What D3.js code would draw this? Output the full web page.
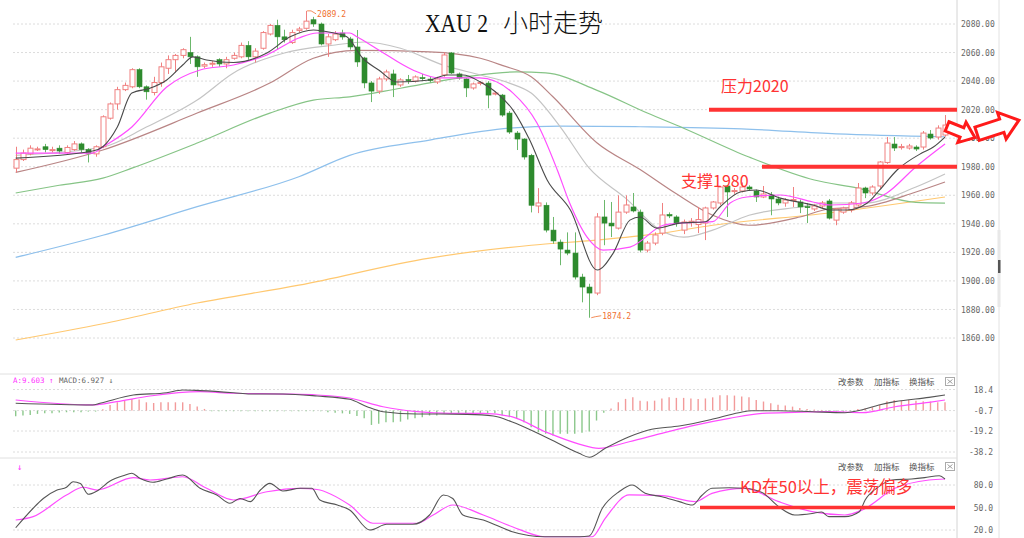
<!DOCTYPE html>
<html><head><meta charset="utf-8">
<script src="https://cdn.jsdelivr.net/npm/d3@7"></script>
<style>body{margin:0;background:#fff;}svg{display:block;}</style>
</head><body>
<svg id="c" width="1024" height="538"></svg>
<script>
// ---------- DATA ----------
const ohlc = [
[1979,1994,1976,1985],[1985,1992,1984,1989.6],[1989,1995,1988,1993],[1992,1994,1991,1992.5],[1994,1996,1990,1992],
[1991.5,1994,1990,1992],[1993,1995,1989,1991],[1990,1995,1989,1993.5],[1992,1998,1991,1996],[1996,1997,1990,1992],
[1992,1993,1983,1989.5],[1989,1995,1987,1994],[1994,2016,1993,2015],[2014,2025,2013,2024],[2024,2036,2020,2034],
[2034,2039,2033,2037],[2036,2049,2035,2048],[2048,2049,2035,2036],[2036,2037,2027,2032.5],[2032,2043,2030,2039],
[2039,2053,2036,2050],[2049,2058,2045,2055],[2055,2059,2046,2058],[2058,2063,2056,2062],[2060,2071,2052,2057],
[2057,2058,2043,2050],[2050.5,2053,2049,2051.5],[2052,2054,2050,2052.5],[2055,2056,2050,2052],[2052,2057,2049,2055],
[2056,2060,2055,2058],[2057,2067,2056,2065],[2065,2068,2055,2057],[2057,2063,2053,2061],[2063,2075,2062,2074],
[2073,2080,2072,2079],[2079,2083,2062,2071],[2071,2076,2067,2069],[2067,2076,2066,2074],[2075.5,2078,2074,2076.5],
[2077,2089.2,2076,2082],[2083,2085,2078,2080],[2080,2081,2065,2066],[2066,2073,2057,2071],[2069,2075,2068,2073],
[2073.7,2076,2069,2070.9],[2069.5,2071,2062,2063.9],[2063.9,2075.8,2050,2053.4],[2056.2,2057,2035,2038.7],[2038.7,2040,2025.3,2033],
[2033,2043,2031,2041.5],[2041.5,2048,2040,2046.4],[2045,2048,2028.8,2037.3],[2037.3,2042,2036,2040.8],[2041,2044.3,2038,2040.5],
[2040,2044,2039,2042.9],[2042.4,2045,2040,2042],[2041.4,2043,2039,2040.4],[2039.4,2043,2038,2041.5],[2044.3,2060,2043,2058.3],
[2059.7,2060.4,2045,2045.7],[2045,2046,2041,2042.2],[2041.5,2042,2028.8,2035.2],[2035.2,2039,2034,2038],[2038.5,2040,2037,2039],
[2038.6,2040,2021,2030.2],[2031.2,2033,2030,2031.6],[2030.2,2031,2015,2016.2],[2017.6,2019,2003,2004.3],[2003.6,2005,1991.7,1999.4],
[1999.4,2000,1985,1986.8],[1988,1989,1948,1953],[1952.5,1965,1947.5,1954.6],[1953,1955,1934,1935.6],[1935.6,1944.8,1926,1928],
[1927.2,1929,1911,1922.3],[1921.6,1934,1918,1919.5],[1919.5,1934,1901,1902.7],[1902.7,1905,1885,1895.7],[1895.7,1898,1874.2,1891.5],
[1891.5,1947.5,1890,1944.8],[1944.8,1956.7,1925,1940.5],[1940.5,1955.3,1930.7,1938.5],[1937,1960,1936,1948.2],[1948.2,1960,1947,1953.2],
[1951.8,1961.6,1948,1949],[1948.2,1950,1920,1921.6],[1921.6,1928,1920,1926.5],[1926.5,1934,1925,1932.2],[1933.5,1954.6,1932,1946.2],
[1946.5,1948,1944,1945.5],[1944.8,1946,1938,1940.5],[1935.6,1943,1932.8,1941.3],[1941,1944,1938,1941.8],[1939.5,1951.8,1933.5,1943],
[1940.5,1952,1928.6,1951.1],[1951.1,1956,1950,1955.3],[1954.6,1966.5,1953,1965.8],[1966.5,1967,1944.8,1962.3],[1962.8,1965,1961,1963.3],
[1963,1969,1962,1965.8],[1965.8,1967,1963,1964.4],[1963,1964,1955.3,1958.8],[1958.8,1966.5,1958,1960.9],[1960.2,1962.3,1946,1957.4],
[1957.4,1959,1953,1954.6],[1954.6,1958,1952,1956.7],[1956.5,1965.8,1951.8,1957],[1955.3,1957,1947.5,1951.8],[1952,1954.6,1940.5,1951.5],
[1950.4,1954,1949,1952.5],[1952.5,1956,1951,1954.6],[1956,1957.4,1943,1944],[1942.6,1951,1939,1950.4],[1948.2,1952,1947,1951],
[1949.7,1956,1948,1954.6],[1953.2,1968.6,1952,1965.1],[1965.1,1966,1958,1961.6],[1961.6,1967,1960,1965.8],[1966.5,1984,1965,1983.3],
[1983,2000.8,1982,1996.6],[1995.9,2000.8,1991,1993.1],[1993.6,1996,1992,1994.1],[1993.1,1996,1992,1994.5],[1993.8,1995,1991,1992.4],
[1993.8,2005,1992,2003.6],[2002.9,2005.7,1999,2000.1],[2000.8,2009,1999,2007.1],[2002.2,2016.2,2001,2009.2]
];

// moving averages as [bar index, value]
const maBlack = [[0,1986],[10.6,1991],[12,1994],[14,2007.8],[16,2031.6],[18.5,2035],[20.8,2040.8],[23,2051.3],[24.4,2057],[26.3,2054.8],[30,2053],[34.6,2059.7],[37.8,2071],[41,2075.8],[43.5,2074],[45.6,2071],[47.8,2056],[50,2047.8],[52.5,2039.4],[57,2040.8],[59.4,2044.3],[61.6,2044.3],[64,2039.4],[66.3,2031.6],[68.5,2019.7],[70.8,1998.7],[73.2,1970.7],[76.4,1949.7],[80.1,1907.6],[82.3,1919.5],[84.6,1942.6],[86,1944.8],[88.3,1937],[91.5,1940.5],[95,1941.5],[97,1951.8],[99.8,1962.3],[102,1963.7],[105.3,1958],[109.8,1953.2],[112.2,1949.7],[114.5,1949.7],[117.3,1954.6],[119,1963.7],[121.4,1977.7],[124.8,1989.6],[126.4,1993.8],[128,2000.8]];
const maMagenta = [[0,1989.6],[10.6,1989.6],[12,1993.8],[16,2007.8],[20.8,2035.8],[25.4,2047.8],[30,2051.3],[34.6,2058.3],[39,2070.2],[41.5,2073.7],[46,2073.7],[47,2071],[50,2061.8],[54.7,2047.8],[58.4,2042.2],[63.9,2042.2],[68.5,2031.6],[71.8,2010.6],[74.6,1977.7],[76.3,1954.6],[78.7,1930.7],[80.9,1921.6],[84.6,1923.7],[89.2,1939],[91.5,1940.5],[96,1941.5],[98.4,1954.6],[100.7,1958.8],[105.3,1960.2],[109.8,1955.3],[112.2,1953.2],[116.7,1954.6],[120,1961.6],[124,1980],[128,1996]];
const maGray = [[0,1988],[12,1993.8],[18,2007.8],[25,2026.7],[30,2045.7],[37,2059.7],[44,2065.3],[48,2067.4],[53,2063],[59,2051],[64,2044.3],[68,2038.6],[71,2031.6],[75,2008],[79,1979],[84,1958],[89,1935],[92,1930.7],[96,1935.6],[101,1946],[108,1951.8],[112,1954.6],[117,1954.6],[124,1965.8],[128,1974.9]];
const maBrown = [[0,1976],[12,1991.7],[25,2017.6],[35,2038.6],[41,2056],[47,2061.5],[57,2060.5],[64,2056],[67,2051],[71,2043],[74,2029],[80,1997],[86,1978],[91,1961],[96,1946],[101,1939],[108,1944.8],[112,1950.4],[117,1952],[124,1962.3],[128,1969.3]];
const maGreen = [[0,1961.6],[6,1967],[12,1972],[16,1979],[25,1996.6],[35,2017.6],[41,2026.7],[46,2029],[53,2035],[62,2043],[69,2046.4],[73,2045.7],[80,2033.7],[87,2017.6],[92,2007],[101,1986.8],[110,1970.7],[116,1965],[124,1955],[128,1954.5]];
const maBlue = [[0,1916.5],[12,1932],[25,1952],[39,1973],[46,1988],[57,1998.7],[68,2007],[75,2008.5],[86,2008],[100,2006.5],[113,2003],[128,2001]];
const maOrange = [[0,1858.6],[12,1870],[25,1884.5],[39,1897],[57,1916],[71,1925],[80,1928.6],[89,1933.5],[96,1939],[112,1947.6],[128,1958.8]];

const priceTicks = [2080,2060,2040,2020,2000,1980,1960,1940,1920,1900,1880,1860];

const macdHist = [-5.1,-4.5,-3.9,-3,-2.4,-2.4,-1.8,-1.5,-1.5,-1.5,-0.9,-0.9,1.2,5.1,7.5,9,10.6,10,7.5,6.9,7.5,7.5,7.5,7.5,6,3.6,1.5,-0.6,
-0.6,-0.6,-0.6,-0.6,-0.6,-0.6,-0.6,-0.6,-0.6,-0.6,-0.6,-0.6,-0.6,-0.6,-0.6,
-1.5,-2,-2.5,-3,-5,-7,-13,-12,-10.6,-10.6,-10,-8,-7,-6,-4.5,-4.5,-3,-2.4,-2.4,-2.4,-2.4,-2.4,-2.4,-2.4,-4.5,-6,
-7.5,-10.6,-15,-19.6,-21,-22.6,-21,-21,-21,-20,-19,-9,-2,2,7.5,10.6,12,9,8.4,9,11,12,11.5,11.5,11,10.6,11,12,14,14,13.6,12.7,12,
9.7,8.2,6.6,5.4,4.5,3.6,2.4,1.5,0.9,0.6,-0.6,-1,-1,-0.6,1.5,2,3,5,8.4,9.7,9,9.7,9,8.4,8.2,7.5,7.5];
const macdDif = [[0,5.9],[10.6,4.4],[11.6,5.9],[16.2,13.4],[20.8,15.5],[23,18],[25.4,17.4],[30,15.5],[32.3,14.3],[36.8,14.3],[41.5,12.5],[46,9.5],[48.4,2.8],[50.6,-1.7],[55.3,-3.8],[58.4,-3.8],[62.2,-4.1],[65.8,-5.6],[68.3,-10.8],[72.9,-24.4],[77.6,-39.4],[79,-43],[81.2,-34.9],[84.5,-24.4],[87.6,-17.6],[91.4,-14.7],[95.9,-8.6],[99.6,-2.6],[101.4,-0.8],[105.1,-0.8],[109.7,-1.7],[114.2,-2.6],[116.6,0],[118.9,4.4],[121.1,7.4],[125.8,11.3],[128,13.4]];
const macdDea = [[0,8.9],[10.6,4.4],[13.9,7.4],[18.5,12.5],[25.4,16.4],[30,15],[36.8,14.3],[41.5,13.4],[46,10.7],[50.6,2.8],[55.3,-1.7],[59.8,-3.2],[64.4,-3.2],[68.3,-6.2],[72.9,-19.8],[77.6,-31],[80.3,-34.9],[84.5,-28.9],[89,-21.3],[93.6,-13.8],[98.3,-7.7],[102.8,-3.2],[107.3,-2.3],[112,-1.7],[116.6,-2.6],[121.1,2.8],[125.8,6.8],[128,8.9]];
const macdTicks = [18.4,-0.7,-19.2,-38.2];

const kLine = [[0,23],[2.4,49],[3.8,62],[5.7,73.3],[7,77],[7.9,84.4],[8.9,82],[10,67.6],[11.2,72],[13,85.3],[14.8,92.4],[16,95.6],[17.1,89],[18.9,83.6],[20.8,88],[23,93.3],[25.4,75.6],[27.7,66.7],[29.5,55.6],[30.9,62],[32.3,57.8],[33.7,73.3],[35,82.2],[36.8,72],[39.2,75.6],[40.8,75.6],[41.9,60],[44.3,53.3],[46,46.7],[48.8,20],[51.1,27.6],[54.7,27.6],[57,40],[58.9,66.7],[60.2,62],[61.6,40],[64.4,33.3],[66.7,24.4],[68.4,17.8],[72.9,11],[77.7,11],[79,12],[80.8,49],[83.1,71],[84.9,80],[86.7,69],[89,64.4],[91.4,57.8],[93.2,53.3],[94.5,66],[95.9,75.6],[98.3,76.4],[100.4,75.6],[102.8,70],[105.1,51],[107.3,40],[109.7,42],[111,44],[112,37.8],[114.2,37.8],[116.2,44.4],[117,60],[118.9,77.8],[120.7,86.7],[123.4,88],[125.2,89.8],[127.2,92.4],[128,88]];
const dLine = [[0,33.3],[2.4,37.8],[7,66.7],[9.3,77],[11.2,73.3],[16.2,89.8],[18.5,86.7],[23,91],[26.3,75.6],[30,60],[34.6,71],[39.2,75.6],[41.5,74],[46,53.3],[49.2,29],[55.3,29],[57.5,40],[60.2,53.3],[64.4,40],[68.4,24.4],[72.9,11],[79.4,11],[81.2,35.6],[84.5,66.7],[89,65.8],[93.6,57.8],[95.9,68.9],[100.4,75.6],[105.1,57.8],[109.7,44.4],[114.2,40],[116.6,46.7],[121.1,75.6],[125.8,86.7],[128,88]];
const kdTicks = [80,50,20];

const title = ["XAU 2", "小时走势"];
const notes = {resist:"压力2020", support:"支撑1980", kd:"KD在50以上，震荡偏多"};
const levelResist = 2020, levelSupport = 1980, kdLevel = 50;
const highMark = {i:40, v:2089.2}, lowMark = {i:79, v:1874.2};

// ---------- SCALES ----------
const svg = d3.select("#c");
const x = d3.scaleLinear().domain([0,128]).range([15.7,945]);
const y = d3.scaleLinear().domain([1860,2080]).range([338,24]);
const ym = d3.scaleLinear().domain([-38.2,18.4]).range([452,389.5]);
const yk = d3.scaleLinear().domain([20,80]).range([530,485]);

const defs = svg.append("defs");
defs.append("clipPath").attr("id","cm").append("rect").attr("x",0).attr("y",0).attr("width",957).attr("height",372);
defs.append("clipPath").attr("id","cmacd").append("rect").attr("x",0).attr("y",375).attr("width",957).attr("height",83);
defs.append("clipPath").attr("id","ckd").append("rect").attr("x",0).attr("y",459).attr("width",957).attr("height",79);

const mono = "'DejaVu Sans Mono', monospace";
const cjk = "'Noto Sans CJK SC', sans-serif";

// frame lines
svg.append("line").attr("x1",957).attr("x2",957).attr("y1",0).attr("y2",538).attr("stroke","#d4d4d4");
svg.append("line").attr("x1",999).attr("x2",999).attr("y1",0).attr("y2",538).attr("stroke","#e2e2e2");
svg.append("rect").attr("x",997.5).attr("y",230).attr("width",3).attr("height",77).attr("fill","#e8e8e8");
svg.append("rect").attr("x",998).attr("y",260).attr("width",2.5).attr("height",13).attr("fill","#555");
[374,458].forEach(v=>svg.append("line").attr("x1",0).attr("x2",957).attr("y1",v).attr("y2",v).attr("stroke","#e0e0e0"));

// main grid + axis
const grid = svg.append("g");
priceTicks.forEach(t=>grid.append("line").attr("x1",13).attr("x2",957).attr("y1",y(t)).attr("y2",y(t))
  .attr("stroke","#dcdcdc").attr("stroke-dasharray","2,2"));
const ax = svg.append("g").attr("transform","translate(961,0)")
  .call(d3.axisRight(y).tickValues(priceTicks).tickFormat(d3.format(".2f")).tickSize(0).tickPadding(0));
ax.select(".domain").remove();
ax.selectAll("text").attr("font-family",mono).attr("font-size",8).attr("fill","#666");

// MA lines
const main = svg.append("g").attr("clip-path","url(#cm)");
const ln = d3.line().x(d=>x(d[0])).y(d=>y(d[1])).curve(d3.curveMonotoneX);
[[maOrange,"#ffc870",1.2],[maBlue,"#8ec0ec",1.2],[maGreen,"#86c486",1.2],[maBrown,"#b98585",1.2],[maGray,"#c4c4c4",1.2]]
 .forEach(([d,c,w])=>main.append("path").attr("d",ln(d)).attr("fill","none").attr("stroke",c).attr("stroke-width",w));

// candles
const bw = 5;
const cg = main.append("g");
ohlc.forEach((d,i)=>{
  const [o,h,l,c] = d;
  const up = c >= o;
  const cx = Math.round(x(i))+0.5;
  const col = up ? "#f08080" : "#2e8b2e";
  const wcol = up ? "#f08080" : "#6cb86c";
  cg.append("line").attr("x1",cx).attr("x2",cx).attr("y1",y(h)).attr("y2",y(l)).attr("stroke",wcol).attr("stroke-width",1);
  const top = y(Math.max(o,c)), bot = y(Math.min(o,c));
  const hgt = Math.max(1, bot-top);
  if (up) cg.append("rect").attr("x",cx-bw/2).attr("y",top).attr("width",bw).attr("height",hgt)
      .attr("fill","#fff").attr("stroke",col).attr("stroke-width",1);
  else cg.append("rect").attr("x",cx-bw/2).attr("y",top).attr("width",bw).attr("height",hgt)
      .attr("fill",col).attr("stroke",col).attr("stroke-width",0.6);
});
main.append("path").attr("d",ln(maMagenta)).attr("fill","none").attr("stroke","#ff4dff").attr("stroke-width",1.2);
main.append("path").attr("d",ln(maBlack)).attr("fill","none").attr("stroke","#4a4a4a").attr("stroke-width",1.1);

// high/low marks
const orange = "#f07030";
svg.append("polyline").attr("points",`${x(highMark.i)+1},${y(highMark.v)} ${x(highMark.i)+5},${y(highMark.v)} ${x(highMark.i)+10},${y(highMark.v)+3}`)
  .attr("fill","none").attr("stroke",orange).attr("stroke-width",0.8);
svg.append("text").attr("x",x(highMark.i)+11).attr("y",y(highMark.v)+6).text(highMark.v.toFixed(1))
  .attr("font-family",mono).attr("font-size",8).attr("fill",orange);
svg.append("polyline").attr("points",`${x(lowMark.i)+2},${y(lowMark.v)} ${x(lowMark.i)+6},${y(lowMark.v)-1} ${x(lowMark.i)+12},${y(lowMark.v)-2}`)
  .attr("fill","none").attr("stroke",orange).attr("stroke-width",0.8);
svg.append("text").attr("x",x(lowMark.i)+13).attr("y",y(lowMark.v)+1).text(lowMark.v.toFixed(1))
  .attr("font-family",mono).attr("font-size",8).attr("fill",orange);

// title
const serif = "'Liberation Serif', serif";
svg.append("text").attr("x",425).attr("y",32).attr("font-family",serif).attr("font-size",25)
  .attr("textLength",63).attr("lengthAdjust","spacingAndGlyphs").attr("fill","#111").text(title[0]);
svg.append("text").attr("x",503).attr("y",32).attr("font-family",cjk).attr("font-size",25).attr("font-weight",300)
  .attr("fill","#111").text(title[1]);

// annotations
const red = "#ff3333";
svg.append("line").attr("x1",709).attr("x2",957).attr("y1",y(levelResist)).attr("y2",y(levelResist)).attr("stroke",red).attr("stroke-width",4);
svg.append("line").attr("x1",762).attr("x2",957).attr("y1",y(levelSupport)).attr("y2",y(levelSupport)).attr("stroke",red).attr("stroke-width",4);
svg.append("text").attr("x",721).attr("y",92).text(notes.resist).attr("font-family",cjk).attr("font-size",16).attr("fill",red);
svg.append("text").attr("x",681).attr("y",187).text(notes.support).attr("font-family",cjk).attr("font-size",16).attr("fill",red);

// arrows
function arrow(cx, cy, L, L1, sh, hh, ang){
  const p = [[-L/2,-sh],[L1-L/2,-sh],[L1-L/2,-hh],[L/2,0],[L1-L/2,hh],[L1-L/2,sh],[-L/2,sh]];
  svg.append("path").attr("d","M"+p.map(q=>q.join(",")).join("L")+"Z")
    .attr("transform",`translate(${cx},${cy}) rotate(${ang})`)
    .attr("fill","#fff").attr("stroke","#ff1a1a").attr("stroke-width",3).attr("stroke-linejoin","miter");
}
arrow(961,132,30,16,5,11,22);
arrow(998,127,44,26,7,14,-18);

// ---------- MACD ----------
svg.append("text").attr("y",383).attr("font-family",mono).attr("font-size",7.5)
  .call(t=>{t.append("tspan").attr("x",13).attr("fill","#ff33ff").text("A:9.603 ↑");
            t.append("tspan").attr("x",59).attr("fill","#666").text("MACD:6.927 ↓");});
macdTicks.forEach(t=>svg.append("line").attr("x1",13).attr("x2",957).attr("y1",ym(t)).attr("y2",ym(t))
  .attr("stroke","#dcdcdc").attr("stroke-dasharray","2,2"));
const axm = svg.append("g").attr("transform","translate(993,0)")
  .call(d3.axisLeft(ym).tickValues(macdTicks).tickFormat(d=>d.toFixed(1)).tickSize(0).tickPadding(0));
axm.select(".domain").remove();
axm.selectAll("text").attr("font-family",mono).attr("font-size",8).attr("fill","#666");
const mg = svg.append("g").attr("clip-path","url(#cmacd)");
const zeroY = ym(-0.7);
macdHist.forEach((v,i)=>{
  mg.append("line").attr("x1",x(i)).attr("x2",x(i)).attr("y1",zeroY).attr("y2",zeroY - v*(ym(0)-ym(1)))
    .attr("stroke", v>=0 ? "#f29a9a" : "#8cc88c").attr("stroke-width",1.4);
});
const lm = d3.line().x(d=>x(d[0])).y(d=>ym(d[1])).curve(d3.curveMonotoneX);
mg.append("path").attr("d",lm(macdDea)).attr("fill","none").attr("stroke","#ff4dff").attr("stroke-width",1.2);
mg.append("path").attr("d",lm(macdDif)).attr("fill","none").attr("stroke","#555").attr("stroke-width",1.1);

// buttons
function buttons(yy){
  const g = svg.append("g").attr("font-family",cjk).attr("font-size",8.5).attr("fill","#555");
  g.append("text").attr("x",838).attr("y",yy).text("改参数");
  g.append("text").attr("x",874).attr("y",yy).text("加指标");
  g.append("text").attr("x",909).attr("y",yy).text("换指标");
  svg.append("rect").attr("x",945.5).attr("y",yy-7.5).attr("width",9).attr("height",8).attr("fill","#fff").attr("stroke","#aaa");
  svg.append("path").attr("d",`M947.5,${yy-5.5}L952.5,${yy-1.5}M952.5,${yy-5.5}L947.5,${yy-1.5}`).attr("stroke","#888").attr("stroke-width",0.8);
}
buttons(385);
buttons(470);

// ---------- KD ----------
svg.append("text").attr("x",17).attr("y",470).text("↓").attr("font-family",mono).attr("font-size",9).attr("fill","#ff33ff");
kdTicks.forEach(t=>svg.append("line").attr("x1",13).attr("x2",957).attr("y1",yk(t)).attr("y2",yk(t))
  .attr("stroke","#dcdcdc").attr("stroke-dasharray","2,2"));
const axk = svg.append("g").attr("transform","translate(993,0)")
  .call(d3.axisLeft(yk).tickValues(kdTicks).tickFormat(d=>d.toFixed(1)).tickSize(0).tickPadding(0));
axk.select(".domain").remove();
axk.selectAll("text").attr("font-family",mono).attr("font-size",8).attr("fill","#666");
const kg = svg.append("g").attr("clip-path","url(#ckd)");
const lk = d3.line().x(d=>x(d[0])).y(d=>yk(d[1])).curve(d3.curveMonotoneX);
kg.append("path").attr("d",lk(dLine)).attr("fill","none").attr("stroke","#ff4dff").attr("stroke-width",1.2);
kg.append("path").attr("d",lk(kLine)).attr("fill","none").attr("stroke","#555").attr("stroke-width",1.1);
svg.append("line").attr("x1",700).attr("x2",955).attr("y1",yk(kdLevel)).attr("y2",yk(kdLevel)).attr("stroke",red).attr("stroke-width",3.5);
svg.append("text").attr("x",740).attr("y",493).text(notes.kd).attr("font-family",cjk).attr("font-size",16.5).attr("fill",red);
</script>
</body></html>
